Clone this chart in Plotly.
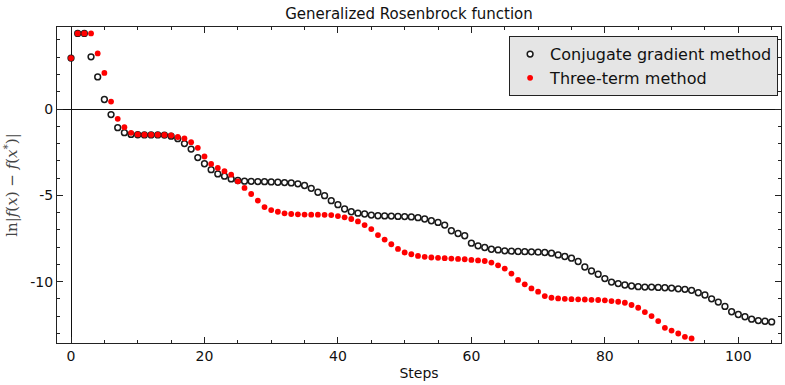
import plotly.graph_objects as go

# ln|f(x) - f(x*)| per iteration for the generalized Rosenbrock test problem
cg_values = [
    2.95, 4.38, 4.38, 3.02, 1.86, 0.55, -0.32, -1.08, -1.37, -1.47,
    -1.49, -1.50, -1.50, -1.50, -1.51, -1.57, -1.72, -2.00, -2.32, -2.81,
    -3.17, -3.51, -3.76, -3.89, -4.05, -4.14, -4.18, -4.19, -4.20, -4.21,
    -4.22, -4.24, -4.26, -4.28, -4.33, -4.43, -4.59, -4.82, -5.02, -5.31,
    -5.54, -5.79, -5.95, -6.03, -6.08, -6.14, -6.18, -6.19, -6.20, -6.22,
    -6.23, -6.25, -6.29, -6.37, -6.47, -6.57, -6.72, -7.05, -7.21, -7.34,
    -7.77, -7.92, -8.02, -8.12, -8.16, -8.21, -8.23, -8.25, -8.26, -8.27,
    -8.29, -8.31, -8.35, -8.45, -8.54, -8.64, -8.83, -9.15, -9.38, -9.57,
    -9.82, -10.02, -10.11, -10.19, -10.25, -10.29, -10.31, -10.31, -10.33, -10.35,
    -10.37, -10.41, -10.44, -10.50, -10.64, -10.77, -10.99, -11.18, -11.43, -11.74,
    -11.90, -12.03, -12.17, -12.25, -12.29, -12.33,
]
three_term_values = [
    2.95, 4.38, 4.38, 4.38, 3.22, 2.09, 0.43, -0.57, -1.05, -1.38,
    -1.47, -1.49, -1.49, -1.49, -1.50, -1.53, -1.62, -1.70, -1.92, -2.25,
    -2.75, -3.18, -3.41, -3.60, -3.80, -4.19, -4.57, -4.92, -5.30, -5.68,
    -5.85, -5.95, -6.04, -6.08, -6.10, -6.11, -6.12, -6.12, -6.13, -6.14,
    -6.20, -6.27, -6.37, -6.51, -6.72, -6.95, -7.30, -7.56, -7.83, -8.10,
    -8.31, -8.41, -8.51, -8.56, -8.60, -8.62, -8.64, -8.66, -8.68, -8.70,
    -8.74, -8.77, -8.80, -8.89, -9.05, -9.24, -9.53, -9.90, -10.15, -10.39,
    -10.58, -10.83, -10.93, -10.97, -10.99, -11.01, -11.02, -11.03, -11.05, -11.06,
    -11.08, -11.12, -11.16, -11.22, -11.35, -11.51, -11.76, -11.99, -12.28, -12.67,
    -12.83, -13.00, -13.19, -13.29,
]
cg_steps = list(range(len(cg_values)))
three_term_steps = list(range(len(three_term_values)))

x_tick_vals = [0, 20, 40, 60, 80, 100]
x_tick_text = ["0", "20", "40", "60", "80", "100"]
y_tick_vals = [0, -5, -10]
y_tick_text = ["0", "-5", "-10"]

fig = go.Figure()
fig.add_trace(go.Scatter(
    x=cg_steps, y=cg_values, mode="markers", name="Conjugate gradient method",
    marker=dict(symbol="circle", size=5.8, color="white",
                line=dict(color="#1a1a1a", width=1.5)),
))
fig.add_trace(go.Scatter(
    x=three_term_steps, y=three_term_values, mode="markers", name="Three-term method",
    marker=dict(symbol="circle", size=5.8, color="#ff0000", line=dict(width=0)),
))

axis_common = dict(
    showgrid=False, showline=True, linecolor="#222222", linewidth=1.2,
    mirror="allticks", ticks="inside", tickcolor="#222222", tickwidth=1,
    zeroline=True, zerolinecolor="#111111", zerolinewidth=1.2,
    tickfont=dict(family="DejaVu Sans", size=14, color="#111111"),
)

fig.update_layout(
    width=785, height=385,
    margin=dict(l=57, r=4, t=27, b=42),
    paper_bgcolor="white", plot_bgcolor="white",
    title=dict(text="Generalized Rosenbrock function", x=0.521, xanchor="center",
               y=1 - 14 / 385, yanchor="middle", yref="container",
               font=dict(family="DejaVu Sans", size=15, color="#111111")),
    xaxis=dict(
        axis_common, range=[-2.1, 106.4],
        tickvals=x_tick_vals, ticktext=x_tick_text, ticklen=6,
        minor=dict(dtick=5, tick0=0, ticks="inside", ticklen=3, tickcolor="#222222"),
        title=dict(text="Steps", standoff=5,
                   font=dict(family="DejaVu Sans", size=14, color="#111111")),
    ),
    yaxis=dict(
        axis_common, range=[-13.55, 4.75],
        tickvals=y_tick_vals, ticktext=y_tick_text, ticklen=6,
        minor=dict(dtick=1, tick0=0, ticks="inside", ticklen=3, tickcolor="#222222"),
        title=dict(text="ln|<i>f</i>(<i>x</i>) − <i>f</i>(<i>x</i><sup>*</sup>)|", standoff=8,
                   font=dict(family="DejaVu Serif", size=15, color="#444444")),
    ),
    legend=dict(
        x=0.996, y=0.971, xanchor="right", yanchor="top",
        bgcolor="#e5e5e5", bordercolor="#222222", borderwidth=1,
        font=dict(family="DejaVu Sans", size=16, color="#111111"),
        itemwidth=30, tracegroupgap=0,
    ),
    showlegend=True,
)

fig.write_html("out.html")
